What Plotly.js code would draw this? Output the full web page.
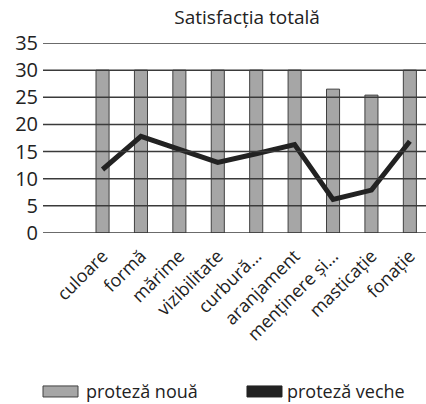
<!DOCTYPE html>
<html><head><meta charset="utf-8">
<script src="https://cdn.plot.ly/plotly-3.0.1.min.js"></script>
<style>body{margin:0;padding:0;background:#fff}#chart{width:426px;height:404px}</style>
</head><body><div id="chart"></div>
<script>
const categories = ["culoare","formă","mărime","vizibilitate","curbură…","aranjament","menținere și…","masticație","fonație"];
const protezaNoua = [30,30,30,30,30,30,26.5,25.4,30];
const protezaVeche = [11.7,17.8,15.4,13.0,14.6,16.3,6.2,7.9,16.9];
const yTicks = [0,5,10,15,20,25,30,35];
const seriesNames = ["proteză nouă","proteză veche"];

const FONT = "'Open Sans', sans-serif";
const barColor = '#a6a6a6', barLine = '#404040', lineColor = '#222222';
const traces = [
  {type:'bar', x:categories, y:protezaNoua, name:seriesNames[0],
   marker:{color:barColor, line:{color:barLine, width:1}}},
  {type:'scatter', mode:'lines', x:categories, y:protezaVeche, name:seriesNames[1],
   line:{color:lineColor, width:5}}
];
const shapes = yTicks.map(v => ({type:'line', xref:'paper', yref:'y', x0:0, x1:1, y0:v, y1:v,
  layer:'above', line:{color:'#3a3a3a', width:1.5}}));
// custom legend swatches (Excel-style rectangles)
shapes.push({type:'rect', xref:'paper', yref:'paper', x0:0, x1:0.0914, y0:-0.863, y1:-0.805,
  fillcolor:barColor, line:{color:barLine, width:1}});
shapes.push({type:'rect', xref:'paper', yref:'paper', x0:0.5326, x1:0.624, y0:-0.863, y1:-0.805,
  fillcolor:lineColor, line:{color:lineColor, width:1}});
const annotations = [
  {xref:'paper', yref:'paper', x:0.106, y:-0.83, xanchor:'left', yanchor:'middle', showarrow:false,
   text:seriesNames[0], font:{family:FONT, size:18, color:'#222'}},
  {xref:'paper', yref:'paper', x:0.631, y:-0.83, xanchor:'left', yanchor:'middle', showarrow:false,
   text:seriesNames[1], font:{family:FONT, size:18, color:'#222'}}
];
const layout = {
  width:426, height:404,
  margin:{l:43, r:0, t:43, b:171},
  paper_bgcolor:'#fff', plot_bgcolor:'#fff',
  font:{family:FONT, color:'#222'},
  title:{text:'Satisfacția totală', x:0.533, xref:'paper', xanchor:'center', y:0.957, yanchor:'middle',
    font:{family:FONT, size:19, color:'#222'}},
  bargap:0.66,
  xaxis:{range:[-1.55,8.42], tickangle:-45, tickfont:{family:FONT, size:18, color:'#222'},
    showgrid:false, showline:false, zeroline:false, ticks:'', fixedrange:true, ticklabelstandoff:8},
  yaxis:{range:[0,35], tickvals:yTicks, tickfont:{family:FONT, size:20, color:'#222'},
    showgrid:false, zeroline:false, showline:false, ticks:'', ticklabelstandoff:4},
  shapes:shapes,
  annotations:annotations,
  showlegend:false
};
Plotly.newPlot('chart', traces, layout, {staticPlot:true});
</script></body></html>
